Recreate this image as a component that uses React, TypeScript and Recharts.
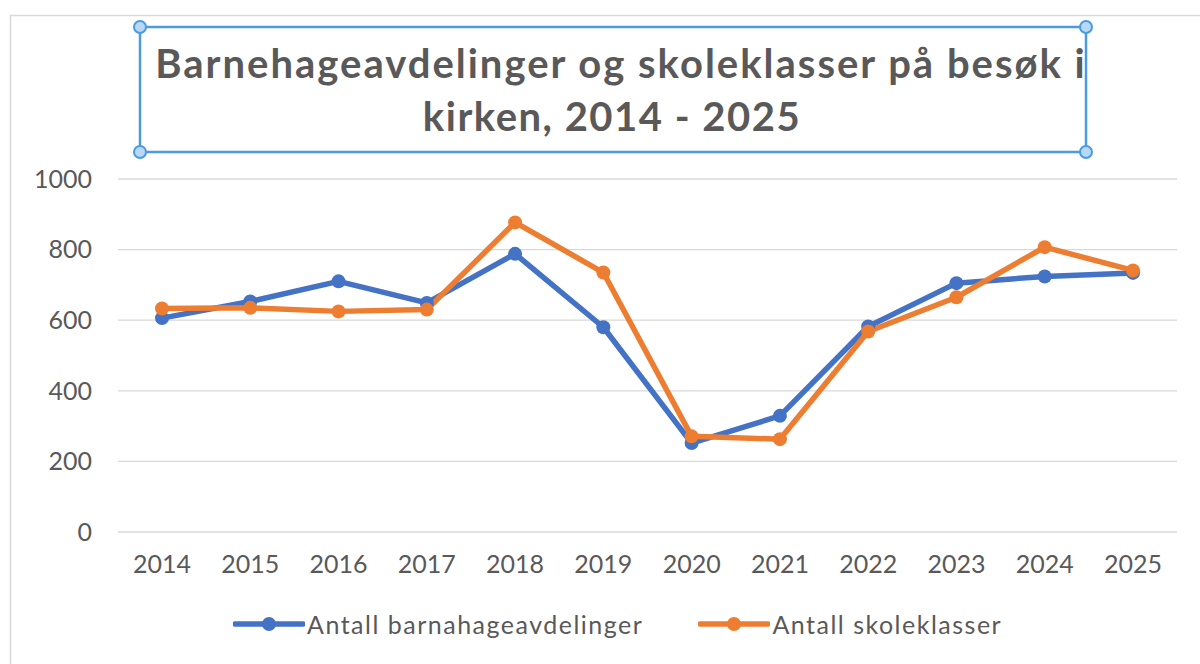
import React from "react"
import { CartesianGrid, Legend, Line, LineChart, XAxis, YAxis } from "recharts"

const years = ["2014", "2015", "2016", "2017", "2018", "2019", "2020", "2021", "2022", "2023", "2024", "2025"]
const barnehage = [606, 653, 710, 649, 788, 580, 252, 329, 582, 705, 724, 734]
const skole = [633, 635, 625, 630, 877, 735, 271, 263, 568, 665, 807, 741]
const yTicks = [0, 200, 400, 600, 800, 1000]

const data = years.map((year, i) => ({
  year,
  barnehage: barnehage[i],
  skole: skole[i],
}))

const BLUE = "#4472C4"
const ORANGE = "#ED7D31"
const TEXT = "#595959"
const FONT = "Lato, 'Open Sans', sans-serif"

function renderLegend(props: any) {
  const items = props.payload || []
  return (
    <div
      style={{
        display: "flex",
        alignItems: "center",
        height: 44,
        paddingLeft: 233,
        fontFamily: FONT,
        fontSize: 25,
        letterSpacing: 1.5,
        color: TEXT,
      }}
    >
      {items.map((item: any, i: number) => (
        <div key={item.value} style={{ display: "flex", alignItems: "center", marginLeft: i === 0 ? 0 : 55 }}>
          <svg width={72} height={20}>
            <line x1={2} y1={10} x2={70} y2={10} stroke={item.color} strokeWidth={5.5} strokeLinecap="round" />
            <circle cx={36} cy={10} r={7} fill={item.color} />
          </svg>
          <span style={{ marginLeft: 2 }}>{item.value}</span>
        </div>
      ))}
    </div>
  )
}

// corner handles of the selected title box
const handles = [
  [140, 27],
  [1086, 27],
  [140, 152],
  [1086, 152],
]

export default function App() {
  return (
    <div style={{ position: "absolute", left: 0, top: 0, width: 1200, height: 664, background: "#fff" }}>
      <LineChart
        width={1200}
        height={664}
        data={data}
        margin={{ top: 179, right: 23, bottom: 18, left: 58 }}
      >
        <CartesianGrid vertical={false} stroke="#D9D9D9" strokeWidth={1.3} />
        <XAxis
          dataKey="year"
          axisLine={false}
          tickLine={false}
          height={70}
          padding={{ left: 44, right: 44 }}
          tickMargin={17}
          tick={{ fill: TEXT, fontSize: 25, fontFamily: FONT }}
        />
        <YAxis
          domain={[0, 1000]}
          ticks={yTicks}
          width={60}
          axisLine={false}
          tickLine={false}
          tickMargin={20}
          tick={{ fill: TEXT, fontSize: 25, fontFamily: FONT }}
        />
        <Legend verticalAlign="bottom" content={renderLegend} wrapperStyle={{ left: 0, width: 1200 }} />
        <Line
          dataKey="barnehage"
          name="Antall barnahageavdelinger"
          stroke={BLUE}
          strokeWidth={5.5}
          strokeLinejoin="round"
          dot={{ r: 7, fill: BLUE, stroke: BLUE, strokeWidth: 0 }}
          isAnimationActive={false}
        />
        <Line
          dataKey="skole"
          name="Antall skoleklasser"
          stroke={ORANGE}
          strokeWidth={5.5}
          strokeLinejoin="round"
          dot={{ r: 7, fill: ORANGE, stroke: ORANGE, strokeWidth: 0 }}
          isAnimationActive={false}
        />
      </LineChart>
      <svg
        width={1200}
        height={664}
        style={{ position: "absolute", left: 0, top: 0, pointerEvents: "none" }}
      >
        <path d="M10.5 664 V15.5 H1200" fill="none" stroke="#D9D9D9" strokeWidth={1.5} />
        <rect x={140} y={27} width={946} height={125} fill="none" stroke="#4A9BE0" strokeWidth={2.5} />
        {handles.map(([x, y]) => (
          <circle key={`${x}-${y}`} cx={x} cy={y} r={6} fill="#B9D7F7" stroke="#4A9BE0" strokeWidth={2} />
        ))}
        <text x={621} y={78} textAnchor="middle" fontFamily={FONT} fontWeight={700} fontSize={40} letterSpacing={2} fill={TEXT}>
          Barnehageavdelinger og skoleklasser på besøk i
        </text>
        <text x={612} y={131} textAnchor="middle" fontFamily={FONT} fontWeight={700} fontSize={40} letterSpacing={1.5} fill={TEXT}>
          kirken, 2014 - 2025
        </text>
      </svg>
    </div>
  )
}
